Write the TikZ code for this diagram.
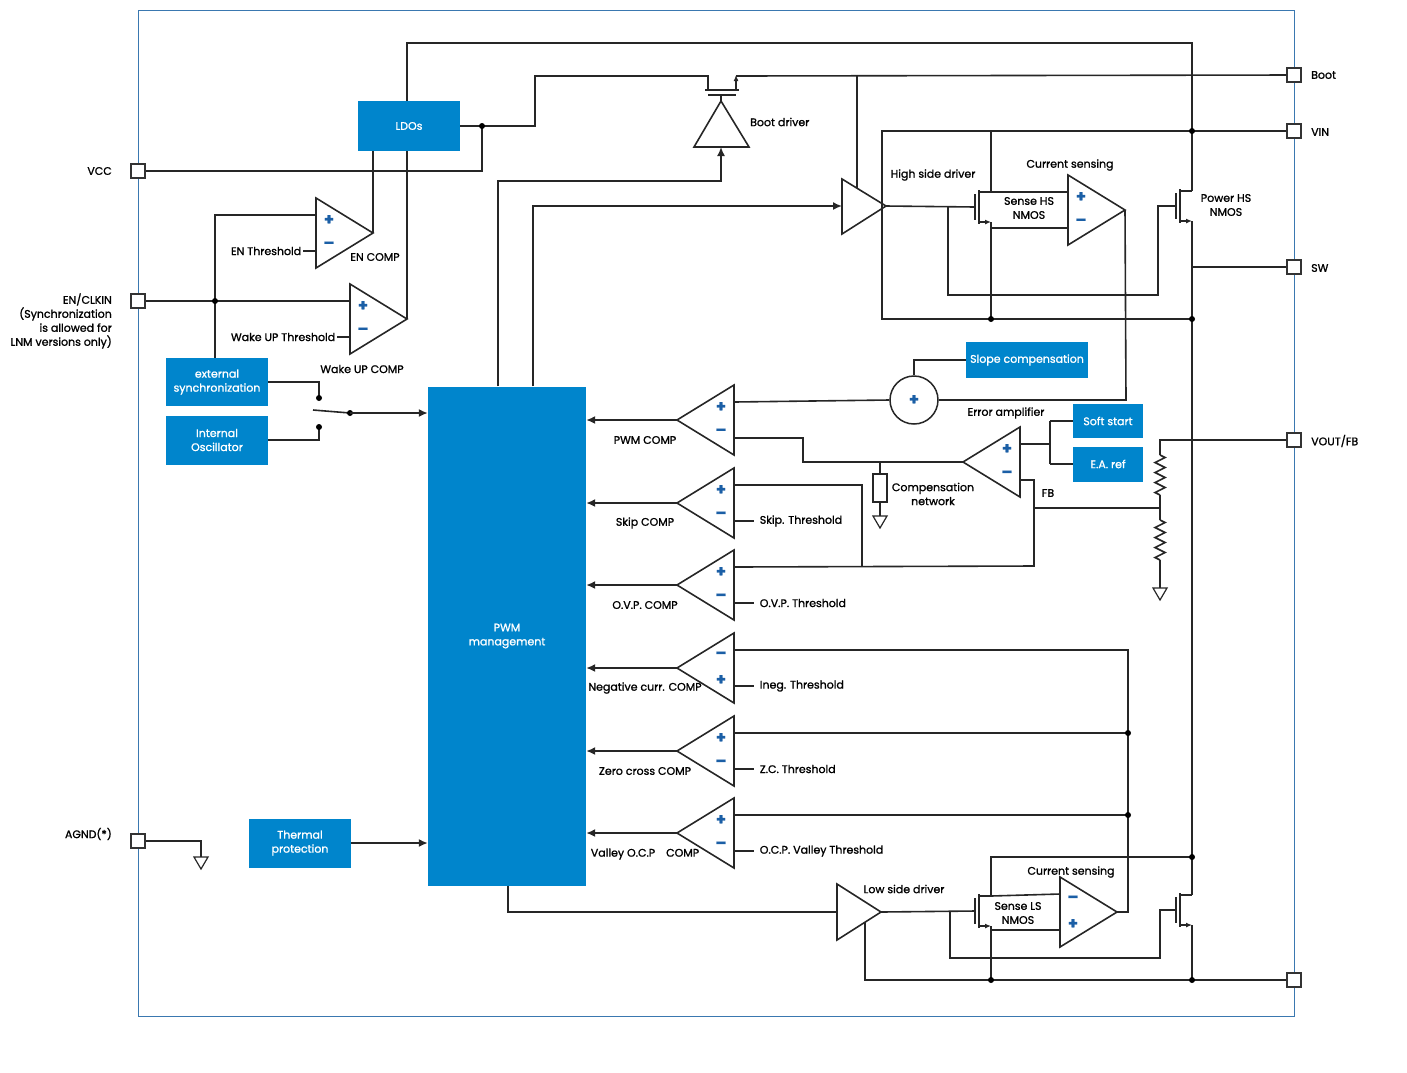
\documentclass[tikz,border=0pt]{standalone}
\usepackage{fontspec}
\setmainfont{Poppins}[FakeBold=1.2]
\usetikzlibrary{arrows.meta,decorations.pathmorphing}

\definecolor{stblue}{HTML}{0085CC}
\definecolor{frameblue}{HTML}{3A78B0}
\definecolor{sgnblue}{HTML}{1B5FA6}

\pgfdeclarelayer{bg}
\pgfsetlayers{bg,main}

\tikzset{
  wire/.style={line width=1.6pt, draw=black!85},
  arr/.style={wire, -{Latex[length=9pt,width=8pt]}},
  blk/.style={fill=stblue, text=white, align=center, font=\fontsize{11}{14}\selectfont, inner sep=0pt},
  lbl/.style={font=\fontsize{11}{14}\selectfont, align=center, inner sep=1pt},
  sgn/.style={text=sgnblue, font=\fontsize{16}{16}\selectfont\bfseries, inner sep=0pt},
  pin/.style={draw=black!80, line width=1.3pt, fill=white, minimum size=14pt, inner sep=0pt},
  dot/.style={circle, fill=black, inner sep=0pt, minimum size=6pt},
}

% comparator pointing right: name, x of flat side, y centre, top sign, bottom sign
\newcommand{\compR}[5]{%
  \draw[wire] (#2,#3-35) -- (#2+57,#3) -- (#2,#3+35) -- cycle;
  \node[sgn] at (#2+13,#3-13) {#4};
  \node[sgn] at (#2+13,#3+12) {#5};
  \coordinate (#1-a) at (#2,#3-18);
  \coordinate (#1-b) at (#2,#3+18);
  \coordinate (#1-o) at (#2+57,#3);}
% comparator pointing left
\newcommand{\compL}[5]{%
  \draw[wire] (#2,#3-35) -- (#2-57,#3) -- (#2,#3+35) -- cycle;
  \node[sgn] at (#2-13,#3-13) {#4};
  \node[sgn] at (#2-13,#3+12) {#5};
  \coordinate (#1-a) at (#2,#3-18);
  \coordinate (#1-b) at (#2,#3+18);
  \coordinate (#1-o) at (#2-57,#3);}
% nmos: name, gate x, y centre
\newcommand{\nmos}[3]{%
  \draw[wire] (#2,#3-13) -- (#2,#3+13);
  \draw[wire] (#2+4,#3-17) -- (#2+4,#3+17);
  \draw[wire] (#2+4,#3-15) -- (#2+16,#3-15);
  \draw[wire, -{Latex[length=6pt,width=5pt]}] (#2+4,#3+15) -- (#2+16,#3+15);
  \coordinate (#1-g) at (#2,#3);
  \coordinate (#1-d) at (#2+16,#3-15);
  \coordinate (#1-s) at (#2+16,#3+15);}
\newcommand{\gnd}[2]{\draw[wire, line width=1.2pt] (#1-7,#2) -- (#1+7,#2) -- (#1,#2+12) -- cycle;}

\begin{document}
\begin{tikzpicture}[x=1pt, y=-1pt]

\useasboundingbox (0,0) rectangle (1407,1072);
\draw[frameblue, line width=1pt] (138,10) rectangle (1294,1016);

% blue blocks
\node[blk, minimum width=102pt, minimum height=50pt] (ldo) at (409,126) {LDOs};
\node[blk, minimum width=102pt, minimum height=48pt] (extsync) at (217,382) {external\\synchronization};
\node[blk, minimum width=102pt, minimum height=49pt] (intosc) at (217,440) {Internal\\Oscillator};
\node[blk, minimum width=102pt, minimum height=49pt] (thermal) at (300,843) {Thermal\\protection};
\node[blk, minimum width=158pt, minimum height=499pt] (pwm) at (507,636) {PWM\\management};
\node[blk, minimum width=122pt, minimum height=36pt] (slope) at (1027,360) {Slope compensation};
\node[blk, minimum width=70pt, minimum height=34pt] (soft) at (1108,421) {Soft start};
\node[blk, minimum width=70pt, minimum height=35pt] (earef) at (1108,464) {E.A. ref};

% comparators
\compR{en}{316}{233}{+}{–}
\compR{wk}{350}{319}{+}{–}
\compR{csh}{1068}{210}{+}{–}
\compR{csl}{1060}{912}{–}{+}
\compL{pwmc}{734}{420}{+}{–}
\compL{skip}{734}{503}{+}{–}
\compL{ovp}{734}{585}{+}{–}
\compL{neg}{734}{668}{–}{+}
\compL{zc}{734}{751}{+}{–}
\compL{ocp}{734}{833}{+}{–}
\compL{ea}{1020}{462}{+}{–}

% drivers
\draw[wire] (694,147) -- (721,101) -- (749,147) -- cycle;
\coordinate (bd-top) at (721,101);
\coordinate (bd-bot) at (721,147);
\draw[wire] (842,179) -- (886,206) -- (842,234) -- cycle;
\coordinate (hs-i) at (842,206);
\coordinate (hs-o) at (886,206);
\draw[wire] (837,884) -- (881,912) -- (837,940) -- cycle;
\coordinate (ls-i) at (837,912);
\coordinate (ls-o) at (881,912);

% transistors
\nmos{snh}{975}{207}
\nmos{pwh}{1176}{206}
\nmos{snl}{975}{911}
\nmos{pwl}{1176}{910}

\node[draw=black!85, line width=1.5pt, circle, minimum size=48pt, inner sep=0pt, fill=white] (sum) at (914,400) {};
\node[sgn] at (sum) {+};

% pins
\node[pin] (vcc) at (138,171) {};
\node[pin] (en) at (138,301) {};
\node[pin] (agnd) at (138,841) {};
\node[pin] (boot) at (1294,75) {};
\node[pin] (vin) at (1294,131) {};
\node[pin] (sw) at (1294,267) {};
\node[pin] (vout) at (1294,440) {};
\node[pin] (pgnd) at (1294,980) {};

% supply and enable
\draw[wire] (vcc) -- (482,171) -- (482,126);
\draw[wire] (ldo.east) -- (535,126) -- (535,76) -- (708,76) -- (708,90);
\draw[wire] (705,90) -- (739,90);
\draw[wire] (708,95) -- (736,95);
\draw[wire] (721,95) -- (bd-top);
\draw[wire, -{Latex[length=6pt,width=5pt]}] (736,90) -- (736,75);
\draw[wire] (736,76) -- (boot);
\draw[wire] (857,76) -- (857,188);
\begin{pgfonlayer}{bg}
\draw[wire] (en-o) -- (en-o |- ldo.south);
\draw[wire] (wk-o) -- (407,43) -- (1192,43) -- (1192,131);
\end{pgfonlayer}
\draw[wire] (en) -- (wk-a);
\draw[wire] (en-a) -- (215,215) -- (215,0 |- extsync.north);
\draw[wire] (en-b) -- ++(-13,0) node[lbl, left] {EN Threshold};
\draw[wire] (wk-b) -- ++(-13,0) node[lbl, left] {Wake UP Threshold};
\node[dot] at (482,126) {};
\node[dot] at (215,301) {};

% clock selection
\draw[wire] (extsync.east) -| (319,398);
\draw[wire] (intosc.east) -| (319,427);
\draw[wire] (313,410) -- (350,413);
\node[dot] at (319,398) {};
\node[dot] at (319,427) {};
\node[dot] at (350,413) {};
\draw[arr] (350,413) -- (350,413 -| pwm.west);
\draw[arr] (thermal.east) -- (thermal.east -| pwm.west);

% high side
\draw[arr] ([xshift=70pt]pwm.north west) |- (721,181) -- (bd-bot);
\draw[arr] ([xshift=105pt]pwm.north west) |- (hs-i);
\draw[wire] (hs-o) -- (snh-g);
\draw[wire] (948,206) -- (948,295) -- (1158,295) -- (1158,206) -- (pwh-g);
\draw[wire] (vin) -- (882,131) -- (882,319) -- (1192,319);
\draw[wire] (snh-d) -- (991,131);
\draw[wire] (snh-d) -- (csh-a);
\draw[wire] (snh-s) -- (991,319);
\draw[wire] (991,228) -- (csh-b);
\draw[wire] (pwh-d) -- (1192,131);
\draw[wire] (pwh-s) -- (pwl-d);
\draw[wire] (1192,267) -- (sw);
\draw[wire] (csh-o) -- (1126,400) -- (sum.east);
\draw[wire] (sum.west) -- (pwmc-a);
\draw[wire] (slope.west) -| (sum.north);
\node[dot] at (1192,131) {};
\node[dot] at (991,319) {};
\node[dot] at (1192,319) {};

% error amplifier and feedback
\draw[wire] (ea-o) -- (803,462) -- (803,438) -- (pwmc-b);
\draw[wire] (880,462) -- (880,474);
\draw[wire] (873,474) rectangle (887,502);
\draw[wire] (880,502) -- (880,516);
\gnd{880}{516}
\draw[wire] (ea-a) -- (1050,444);
\draw[wire] (1050,421) -- (1050,464);
\draw[wire] (1050,421) -- (soft.west);
\draw[wire] (1050,464) -- (earef.west);
\draw[wire] (ea-b) -- (1034,480) -- (1034,566) -- (ovp-a);
\draw[wire] (1034,508) -- (1160,508);
\draw[wire] (skip-a) -- (862,485) -- (862,566);
\draw[wire] (vout) -- (1160,440) -- (1160,455);
\draw[wire, decorate, decoration={zigzag, segment length=10pt, amplitude=5pt}] (1160,455) -- (1160,495);
\draw[wire] (1160,495) -- (1160,520);
\draw[wire, decorate, decoration={zigzag, segment length=10pt, amplitude=5pt}] (1160,520) -- (1160,560);
\draw[wire] (1160,560) -- (1160,588);
\gnd{1160}{588}

% comparator outputs and thresholds
\foreach \c in {pwmc,skip,ovp,neg,zc,ocp}
  \draw[arr] (\c-o) -- (\c-o -| pwm.east);
\draw[wire] (skip-b) -- ++(20,0) node[lbl, right=4pt] {Skip. Threshold};
\draw[wire] (ovp-b) -- ++(20,0) node[lbl, right=4pt] {O.V.P. Threshold};
\draw[wire] (neg-b) -- ++(20,0) node[lbl, right=4pt] {Ineg. Threshold};
\draw[wire] (zc-b) -- ++(20,0) node[lbl, right=4pt] {Z.C. Threshold};
\draw[wire] (ocp-b) -- ++(20,0) node[lbl, right=4pt] {O.C.P. Valley Threshold};

% low side
\draw[wire] (csl-o) -| (1128,650) -- (neg-a);
\draw[wire] (zc-a) -- (1128,733);
\draw[wire] (ocp-a) -- (1128,815);
\node[dot] at (1128,733) {};
\node[dot] at (1128,815) {};
\draw[wire] ([xshift=80pt]pwm.south west) |- (ls-i);
\draw[wire] (ls-o) -- (snl-g);
\draw[wire] (950,911) -- (950,958) -- (1160,958) -- (1160,910) -- (pwl-g);
\draw[wire] (865,922) -- (865,980) -- (pgnd);
\draw[wire] (snl-d) -- (991,857) -- (1192,857);
\draw[wire] (snl-d) -- (csl-a);
\draw[wire] (snl-s) -- (991,980);
\draw[wire] (991,930) -- (csl-b);
\draw[wire] (pwl-s) -- (1192,980);
\node[dot] at (1192,857) {};
\node[dot] at (991,980) {};
\node[dot] at (1192,980) {};

% ground pin
\draw[wire] (agnd) -- (201,841) -- (201,857);
\gnd{201}{857}

% labels
\node[lbl, anchor=east] at (113,171) {VCC};
\node[lbl, anchor=east, align=right] at (113,321) {EN/CLKIN\\(Synchronization\\is allowed for\\LNM versions only)};
\node[lbl, anchor=east] at (113,834) {AGND(*)};
\node[lbl, anchor=west] at (1310,75) {Boot};
\node[lbl, anchor=west] at (1310,132) {VIN};
\node[lbl, anchor=west] at (1310,268) {SW};
\node[lbl, anchor=west] at (1310,441) {VOUT/FB};
\node[lbl] at (375,257) {EN COMP};
\node[lbl] at (362,369) {Wake UP COMP};
\node[lbl, anchor=west] at (749,122) {Boot driver};
\node[lbl] at (933,175) {High side driver};
\node[lbl] at (1070,165) {Current sensing};
\node[lbl] at (1029,208) {Sense HS\\NMOS};
\node[lbl] at (1226,205) {Power HS\\NMOS};
\node[lbl] at (1006,413) {Error amplifier};
\node[lbl] at (933,494) {Compensation\\network};
\node[lbl] at (1048,493) {FB};
\node[lbl] at (1071,872) {Current sensing};
\node[lbl] at (1018,913) {Sense LS\\NMOS};
\node[lbl] at (904,889) {Low side driver};
\node[lbl] at (645,440) {PWM COMP};
\node[lbl] at (645,523) {Skip COMP};
\node[lbl] at (645,605) {O.V.P. COMP};
\node[lbl] at (645,688) {Negative curr. COMP};
\node[lbl] at (645,771) {Zero cross COMP};
\node[lbl] at (645,854) {Valley O.C.P\quad COMP};

\end{tikzpicture}
\end{document}
